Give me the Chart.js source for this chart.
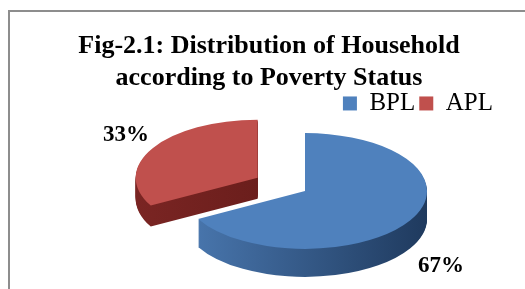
<!DOCTYPE html>
<html>
<head>
<meta charset="utf-8">
<script src="https://cdn.jsdelivr.net/npm/chart.js@4.4.0/dist/chart.umd.min.js"></script>
<style>
    html, body { margin: 0; padding: 0; background: #fff; }
    #wrap { position: relative; width: 525px; height: 289px; overflow: hidden; }
    #frame { position: absolute; left: 8px; top: 10px; width: 600px; height: 400px; border: 2px solid #8d8d8d; box-sizing: border-box; }
    #povertyChart { position: absolute; left: 0; top: 0; }
</style>
</head>
<body>
<div id="wrap">
    <div id="frame"></div>
    <canvas id="povertyChart" width="525" height="289"></canvas>
</div>
<script>
(function () {
    'use strict';

    const titleLines = ['Fig-2.1: Distribution of Household', 'according to Poverty Status'];
    const categories = ['BPL', 'APL'];
    const shares = [67, 33];

    const topColors = ['#4F81BD', '#C0504D'];
    const sideLeft = ['#4a78b0', '#7a2523'];
    const sideRight = ['#1f3a5e', '#5c1715'];

    // fake 3D: squash the pie, extrude it downwards, pull APL out
    const explodePx = [0, 55];
    const depthPx = [28, 21];
    const view = { shiftX: 36, tilt: 0.475 };
    const labelPos = [[441, 266], [126, 135]];

    const canvas = document.getElementById('povertyChart');
    if (!canvas) return;

    function drawArcAt(ctx, arc, i, dy, fill) {
        const mid = (arc.startAngle + arc.endAngle) / 2;
        const d = explodePx[i] || 0;
        ctx.save();
        ctx.translate(Math.cos(mid) * d, Math.sin(mid) * d + dy);
        const orig = arc.options;
        if (fill) {
            arc.options = Object.assign({}, orig, { backgroundColor: fill, borderColor: fill });
        }
        arc.draw(ctx);
        arc.options = orig;
        ctx.restore();
    }

    const pie3d = {
        id: 'pie3d',
        beforeDatasetsDraw(chart) {
            const ctx = chart.ctx;
            const arcs = chart.getDatasetMeta(0).data;
            if (!arcs.length) return;
            const cx = arcs[0].x, cy = arcs[0].y, r = arcs[0].outerRadius;

            ctx.save();
            ctx.translate(cx + view.shiftX, cy);
            ctx.scale(1, view.tilt);
            ctx.translate(-cx, -cy);

            const sides = arcs.map((arc, i) => {
                const g = ctx.createLinearGradient(cx - r, 0, cx + r, 0);
                g.addColorStop(0, sideLeft[i]);
                g.addColorStop(1, sideRight[i]);
                return g;
            });
            const maxDepth = Math.max.apply(null, depthPx);
            for (let d = maxDepth; d >= 1; d--) {
                arcs.forEach((arc, i) => {
                    if (d <= depthPx[i]) drawArcAt(ctx, arc, i, d / view.tilt, sides[i]);
                });
            }
            arcs.forEach((arc, i) => drawArcAt(ctx, arc, i, 0, null));
            ctx.restore();
            return false;
        },
        afterDraw(chart) {
            const ctx = chart.ctx;
            const total = shares.reduce((a, b) => a + b, 0);
            ctx.save();
            ctx.font = 'bold 23px "Liberation Serif", "Times New Roman", serif';
            ctx.fillStyle = '#000';
            ctx.textAlign = 'center';
            ctx.textBaseline = 'middle';
            shares.forEach((v, i) => {
                ctx.fillText(Math.round(v / total * 100) + '%', labelPos[i][0], labelPos[i][1]);
            });
            ctx.restore();
        }
    };

    new Chart(canvas.getContext('2d'), {
        type: 'pie',
        data: {
            labels: categories,
            datasets: [{
                data: shares,
                backgroundColor: topColors,
                borderWidth: 0,
                radius: 122,
                clip: false
            }]
        },
        options: {
            responsive: false,
            animation: false,
            events: [],
            layout: { padding: { left: 41, right: 28, top: 0, bottom: 33 } },
            plugins: {
                title: {
                    display: true,
                    text: titleLines,
                    color: '#000',
                    font: { family: '"Liberation Serif", "Times New Roman", serif', size: 26, weight: 'bold', lineHeight: 1.23 },
                    padding: { top: 30, bottom: -7 }
                },
                legend: {
                    display: true,
                    position: 'top',
                    align: 'end',
                    labels: {
                        color: '#000',
                        boxWidth: 14,
                        boxHeight: 14,
                        padding: 4,
                        font: { family: '"Liberation Serif", "Times New Roman", serif', size: 25 }
                    }
                },
                tooltip: { enabled: false }
            }
        },
        plugins: [pie3d]
    });
})();
</script>
</body>
</html>
